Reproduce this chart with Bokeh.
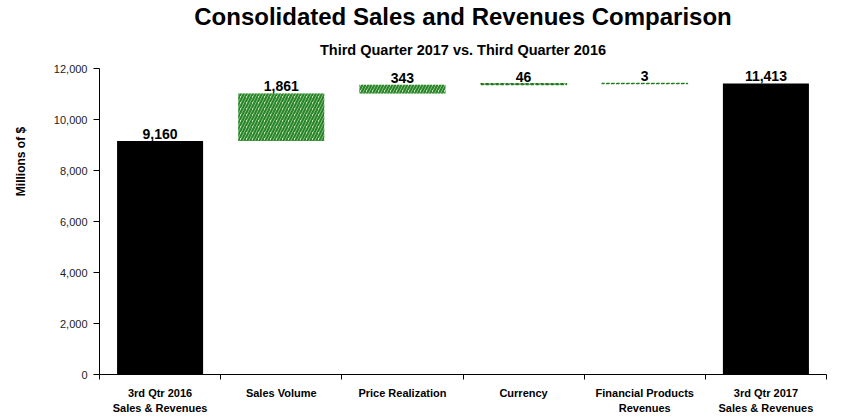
from bokeh.plotting import figure
from bokeh.models import (ColumnDataSource, LabelSet, Title, FixedTicker,
                          NumeralTickFormatter, Range1d)
from bokeh.core.properties import value
from bokeh.embed import file_html
from bokeh.resources import INLINE

# ---- data ----
categories = ["3rd Qtr 2016\nSales & Revenues", "Sales Volume", "Price Realization",
              "Currency", "Financial Products\nRevenues", "3rd Qtr 2017\nSales & Revenues"]
start_total = 9160
changes = [1861, 343, 46, 3]
end_total = 11413
y_ticks = [0, 2000, 4000, 6000, 8000, 10000, 12000]

FONT = "Liberation Sans"

n = len(categories)
xs = [i + 0.5 for i in range(n)]

# waterfall geometry from the values
bottoms, tops = [], []
running = start_total
for c in changes:
    bottoms.append(running)
    running += c
    tops.append(running)

tot_src = ColumnDataSource(dict(x=[xs[0], xs[-1]], top=[start_total, end_total],
                                bottom=[0, 0]))
chg_src = ColumnDataSource(dict(x=xs[1:-1], top=tops, bottom=bottoms,
                                la=[1.0 if c < 100 else 0.0 for c in changes]))

val_src = ColumnDataSource(dict(
    x=xs,
    y=[start_total] + tops + [end_total],
    text=[f"{v:,}" for v in [start_total] + changes + [end_total]],
))

p = figure(width=844, height=417, output_backend="svg", toolbar_location=None,
           x_range=Range1d(0, n), y_range=Range1d(0, 12000),
           min_border_left=99, min_border_right=18, min_border_bottom=41,
           min_border_top=68)
p.outline_line_color = None
p.grid.grid_line_color = None
p.background_fill_color = "white"
p.border_fill_color = "white"

p.vbar(x="x", top="top", bottom="bottom", width=0.71, source=tot_src,
       fill_color="black", line_color=None)
p.vbar(x="x", top="top", bottom="bottom", width=0.71, source=chg_src,
       fill_color="#c4e8bc", line_color="#1f7a1f", line_alpha="la",
       line_dash="3 2", line_width=1.2,
       hatch_pattern="/", hatch_color="#2a842a", hatch_scale=6, hatch_weight=2.2)

p.add_layout(LabelSet(x="x", y="y", text="text", source=val_src, y_offset=2,
                      text_align="center", text_baseline="bottom",
                      text_font=value(FONT), text_font_style="bold",
                      text_font_size="14px", text_color="black"))

# x axis: labels at category centres, tick marks at category boundaries
p.xaxis.ticker = FixedTicker(ticks=xs, minor_ticks=list(range(n + 1)))
p.xaxis.major_label_overrides = {x: c for x, c in zip(xs, categories)}
p.xaxis.major_tick_line_color = None
p.xaxis.major_tick_in = 0
p.xaxis.major_tick_out = 0
p.xaxis.minor_tick_in = 0
p.xaxis.minor_tick_out = 5
p.xaxis.minor_tick_line_color = "black"
p.xaxis.axis_line_color = "black"
p.xaxis.major_label_standoff = 7
p.xaxis.major_label_text_font = FONT
p.xaxis.major_label_text_font_style = "bold"
p.xaxis.major_label_text_font_size = "11px"
p.xaxis.major_label_text_line_height = 1.3
p.xaxis.major_label_text_color = "black"

p.yaxis.ticker = FixedTicker(ticks=y_ticks)
p.yaxis.formatter = NumeralTickFormatter(format="0,0")
p.yaxis.major_tick_in = 0
p.yaxis.major_tick_out = 6
p.yaxis.minor_tick_line_color = None
p.yaxis.axis_line_color = "black"
p.yaxis.major_tick_line_color = "black"
p.yaxis.major_label_text_font = FONT
p.yaxis.major_label_text_font_size = "11px"
p.yaxis.major_label_text_color = "#222222"
p.yaxis.major_label_standoff = 6
p.yaxis.axis_label = "\u00a0" * 36 + "Millions of $"
p.yaxis.axis_label_text_font = FONT
p.yaxis.axis_label_text_font_style = "bold"
p.yaxis.axis_label_text_font_size = "12px"
p.yaxis.axis_label_text_color = "black"
p.yaxis.axis_label_standoff = 23

p.add_layout(Title(text="Third Quarter 2017 vs. Third Quarter 2016", align="center",
                   text_font=FONT, text_font_style="bold",
                   text_font_size="14.5px", text_color="black",
                   standoff=21, offset=-12), "above")
p.add_layout(Title(text="Consolidated Sales and Revenues Comparison", align="center",
                   text_font=FONT, text_font_style="bold", text_color="black",
                   text_font_size="24px", standoff=0, offset=-12), "above")

open("out.html", "w").write(file_html(p, INLINE))
